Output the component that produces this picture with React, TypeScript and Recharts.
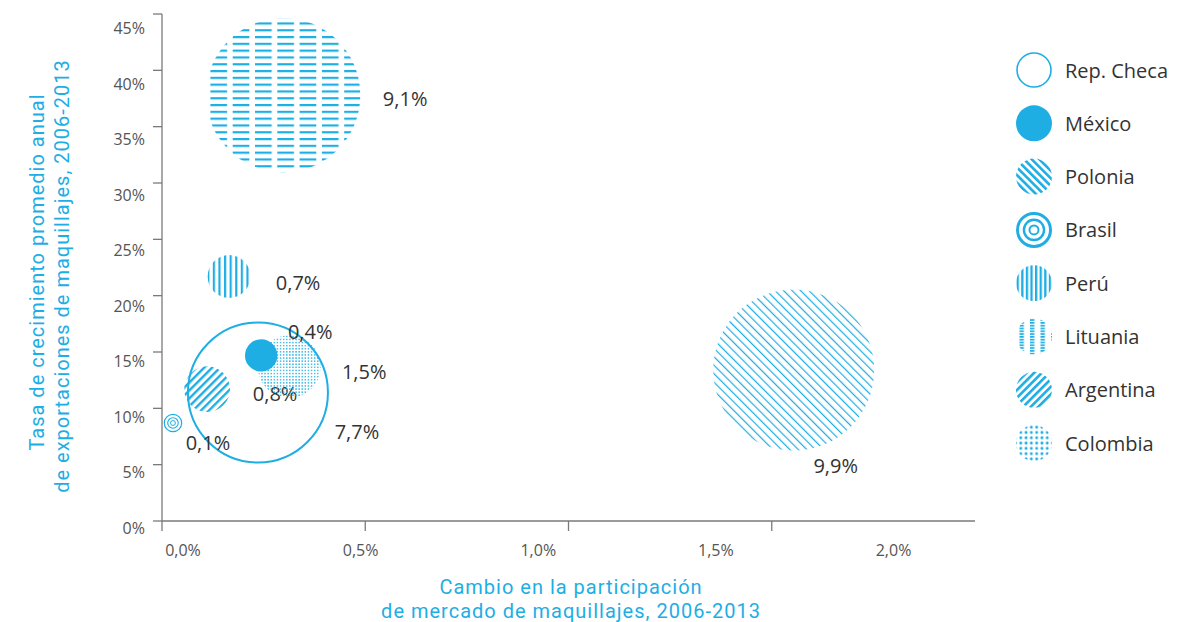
import React from 'react';
import { ScatterChart, Scatter, XAxis, YAxis, ZAxis } from 'recharts';

const CYAN = '#1eaee4';
const AXIS = '#7a7a7a';
const INK = '#333333';
const TICK_INK = '#555555';
const FONT = '"Open Sans", "Noto Sans", sans-serif';
const TITLE_FONT = 'Roboto, "Open Sans", sans-serif';

// one entry per country, same order in every array
const keys = ['checa', 'mexico', 'polonia', 'brasil', 'peru', 'lituania', 'argentina', 'colombia'];
const countries = ['Rep. Checa', 'México', 'Polonia', 'Brasil', 'Perú', 'Lituania', 'Argentina', 'Colombia'];
const shareChange = [0.236, 0.244, 1.554, 0.027, 0.165, 0.298, 0.111, 0.313]; // x, % points
const growth = [11.4, 14.7, 13.4, 8.7, 21.7, 37.8, 11.7, 13.7]; // y, %
const marketShare = [7.7, 0.4, 9.9, 0.1, 0.7, 9.1, 0.8, 1.5]; // bubble size, %

const xTicks = [0, 0.5, 1, 1.5, 2];
const yTicks = [0, 5, 10, 15, 20, 25, 30, 35, 40, 45];

// back-to-front
const drawOrder = ['checa', 'polonia', 'lituania', 'peru', 'brasil', 'argentina', 'colombia', 'mexico'];

// where each value label sits relative to its bubble centre
const LABEL_OFFSET: Record<string, [number, number]> = {
  checa: [99, 39],
  mexico: [49, -24],
  polonia: [42, 95],
  brasil: [35, 20],
  peru: [69, 6],
  lituania: [122, 3],
  argentina: [68, 4],
  colombia: [75, 5],
};

const PLOT = { left: 162, top: 14, right: 975, bottom: 521 };
const W = 1185;
const H = 622;

const fmt = (v: number, d = 1) => v.toFixed(d).replace('.', ',') + '%';

const rows = keys.map((key, i) => ({
  key,
  name: countries[i],
  x: shareChange[i],
  y: growth[i],
  z: marketShare[i],
}));

function Mark({ k, cx, cy, r, legend }: { k: string; cx: number; cy: number; r: number; legend?: boolean }) {
  const p = legend ? 'lg' : 'ch';
  if (k === 'checa') {
    return <circle cx={cx} cy={cy} r={r - 1} fill="none" stroke={CYAN} strokeWidth={legend ? 1.6 : 2} />;
  }
  if (k === 'mexico') return <circle cx={cx} cy={cy} r={r} fill={CYAN} />;
  if (k === 'brasil') {
    const sw = legend ? [3, 2.4, 2] : [1.2, 1.1, 1];
    const rr = legend ? [r - 1.5, r * 0.56, r * 0.25] : [r + 0.6, r * 0.65, r * 0.3];
    return (
      <g fill="none" stroke={CYAN}>
        <circle cx={cx} cy={cy} r={rr[0]} strokeWidth={sw[0]} />
        <circle cx={cx} cy={cy} r={rr[1]} strokeWidth={sw[1]} />
        <circle cx={cx} cy={cy} r={rr[2]} strokeWidth={sw[2]} />
      </g>
    );
  }
  return <circle cx={cx} cy={cy} r={r} fill={`url(#${p}-${k})`} />;
}

function Bubble(props: any) {
  const { cx, cy, width, payload } = props;
  if (cx == null || cy == null) return null;
  const r = width / 2;
  const off = LABEL_OFFSET[payload.key];
  return (
    <g>
      <Mark k={payload.key} cx={cx} cy={cy} r={r} />
      <text
        x={cx + off[0]}
        y={cy + off[1]}
        textAnchor="middle"
        dominantBaseline="central"
        fontFamily={FONT}
        fontSize={20}
        fill={INK}
      >
        {fmt(payload.z)}
      </text>
    </g>
  );
}

function XTick(props: any) {
  const { x, y, payload } = props;
  const v = payload.value;
  // the printed labels drift left of their tick marks in the source
  const lx = x + 21 - (x - PLOT.left) * 0.126;
  return (
    <g>
      {v < 2 && <line x1={x} y1={y} x2={x} y2={y + 10} stroke={AXIS} strokeWidth={1.3} />}
      <text x={lx} y={y + 29} textAnchor="middle" dominantBaseline="central" fontFamily={FONT} fontSize={16} fill={TICK_INK}>
        {fmt(v)}
      </text>
    </g>
  );
}

function YTick(props: any) {
  const { x, y, payload } = props;
  const ly = y + 7 + (7 * (PLOT.bottom - y)) / (PLOT.bottom - PLOT.top);
  return (
    <g>
      <line x1={x - 9} y1={y} x2={x} y2={y} stroke={AXIS} strokeWidth={1.3} />
      <text x={x - 17} y={ly} textAnchor="end" dominantBaseline="central" fontFamily={FONT} fontSize={16} fill={TICK_INK}>
        {payload.value}%
      </text>
    </g>
  );
}

function Patterns() {
  const line = (id: string, gap: number, sw: number, angle: number) => (
    <pattern id={id} patternUnits="userSpaceOnUse" width={gap} height={gap} patternTransform={`rotate(${angle})`}>
      <rect x={0} y={0} width={sw} height={gap} fill={CYAN} />
    </pattern>
  );
  return (
    <defs>
      {line('ch-polonia', 6, 1.2, -45)}
      {line('ch-argentina', 5.6, 2.4, 45)}
      {line('ch-peru', 5.6, 2.2, 0)}
      <pattern id="ch-lituania" patternUnits="userSpaceOnUse" x={9.7} y={2} width={22.3} height={6.8}>
        <rect x={0} y={0} width={16.7} height={2.2} fill={CYAN} />
      </pattern>
      <pattern id="ch-colombia" patternUnits="userSpaceOnUse" width={3.1} height={3.1}>
        <circle cx={1.55} cy={1.55} r={0.85} fill={CYAN} />
      </pattern>
      {line('lg-polonia', 5.4, 2.6, -45)}
      {line('lg-argentina', 5.4, 2.6, 45)}
      {line('lg-peru', 4.6, 2.3, 0)}
      <pattern id="lg-lituania" patternUnits="userSpaceOnUse" x={1} y={0} width={10.5} height={2.8}>
        <rect x={0} y={0} width={4.4} height={1.7} fill={CYAN} />
      </pattern>
      <pattern id="lg-colombia" patternUnits="userSpaceOnUse" x={0.5} y={0.5} width={5.3} height={5.3}>
        <circle cx={2.65} cy={2.65} r={1.45} fill={CYAN} />
      </pattern>
    </defs>
  );
}

function Overlay() {
  const legendX = 1034;
  return (
    <svg width={W} height={H} style={{ position: 'absolute', left: 0, top: 0, pointerEvents: 'none' }}>
      <Patterns />
      <g fontFamily={TITLE_FONT} fill={CYAN} fontSize={20} letterSpacing={1} textAnchor="middle">
        <text transform="translate(37,272) rotate(-90)" dominantBaseline="central">Tasa de crecimiento promedio anual</text>
        <text transform="translate(62,276) rotate(-90)" dominantBaseline="central">de exportaciones de maquillajes, 2006-2013</text>
        <text x={571} y={587} dominantBaseline="central">Cambio en la participación</text>
        <text x={571} y={611} dominantBaseline="central">de mercado de maquillajes, 2006-2013</text>
      </g>
      {keys.map((k, i) => {
        const cy = 70 + i * 53.3;
        return (
          <g key={k}>
            <Mark k={k} cx={legendX} cy={cy} r={18} legend />
            <text x={1065} y={cy} dominantBaseline="central" fontFamily={FONT} fontSize={20} fill={INK}>
              {countries[i]}
            </text>
          </g>
        );
      })}
    </svg>
  );
}

export default function App() {
  return (
    <div style={{ position: 'absolute', left: 0, top: 0, width: W, height: H, background: '#fff' }}>
      <ScatterChart
        width={W}
        height={H}
        margin={{ top: PLOT.top, right: W - PLOT.right, bottom: H - PLOT.bottom - 40, left: PLOT.left - 60 }}
      >
        <XAxis
          type="number"
          dataKey="x"
          domain={[0, 2]}
          ticks={xTicks}
          height={40}
          tickSize={0}
          tickMargin={0}
          tickLine={false}
          axisLine={{ stroke: AXIS, strokeWidth: 1.3 }}
          tick={<XTick />}
        />
        <YAxis
          type="number"
          dataKey="y"
          domain={[0, 45]}
          ticks={yTicks}
          width={60}
          tickSize={0}
          tickMargin={0}
          tickLine={false}
          axisLine={{ stroke: AXIS, strokeWidth: 1.3 }}
          tick={<YTick />}
        />
        <ZAxis type="number" dataKey="z" domain={[0, 10]} range={[0, (10 * Math.PI * 71 * 71) / 7.7]} />
        {drawOrder.map((k) => (
          <Scatter
            key={k}
            name={countries[keys.indexOf(k)]}
            data={rows.filter((r) => r.key === k)}
            shape={<Bubble />}
            isAnimationActive={false}
          />
        ))}
      </ScatterChart>
      <Overlay />
    </div>
  );
}
